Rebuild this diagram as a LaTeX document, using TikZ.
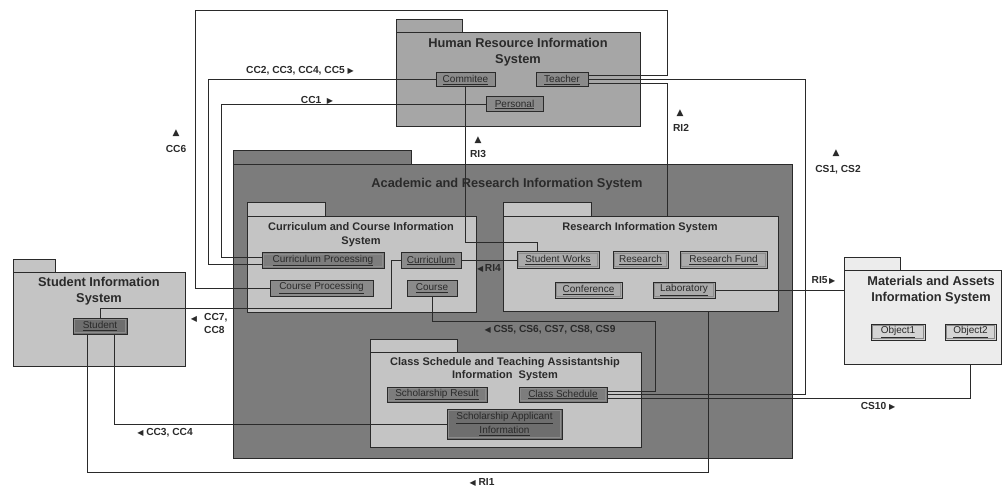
\documentclass[tikz,border=0pt]{standalone}
\usepackage{fontspec}
\setmainfont{Liberation Sans}
\newfontfamily\symf{DejaVu Sans}
\usetikzlibrary{fit}
\newcommand\rtri{{\symf\fontsize{8}{8}\selectfont ▶}}
\newcommand\ltri{{\symf\fontsize{8}{8}\selectfont ◀}}
\newcommand\utri{{\symf\fontsize{9}{9}\selectfont ▲}}
\definecolor{hrfill}{HTML}{A6A6A6}
\definecolor{acfill}{HTML}{7C7C7C}
\definecolor{subfill}{HTML}{C4C4C4}
\definecolor{mafill}{HTML}{ECECEC}
\definecolor{cdark}{HTML}{6E6E6E}
\definecolor{cmid}{HTML}{8A8A8A}
\definecolor{clight}{HTML}{AAAAAA}
\definecolor{cpale}{HTML}{D4D4D4}
\definecolor{ink}{HTML}{2A2A2A}
\newcommand\umlpkg[8]{%
  \node[pkg, fill=#8, fit={(#2,#7) (#6,#3)}] (#1tab) {};
  \node[pkg, fill=#8, fit={(#2,#3) (#4,#5)}] (#1) {};}
\tikzset{
  pkg/.style={draw=ink, line width=1pt, inner sep=0pt},
  ptitle/.style={font=\bfseries\fontsize{12.8}{16}\selectfont, align=center, inner sep=0pt, text=ink},
  stitle/.style={font=\bfseries\fontsize{11}{13.5}\selectfont, align=center, inner sep=0pt, text=ink},
  comp/.style={draw=ink, line width=1pt, inner sep=0pt, minimum height=15pt,
    font=\fontsize{10}{12}\selectfont, text=ink, align=center,
    path picture={\draw[black!45, line width=0.5pt]
      ([shift={(1.4pt,-1.4pt)}]path picture bounding box.north west) rectangle
      ([shift={(-1.4pt,1.4pt)}]path picture bounding box.south east);}},
  conn/.style={draw=ink, line width=0.9pt},
  lbl/.style={font=\bfseries\fontsize{10.2}{12}\selectfont, inner sep=0pt, align=center, text=ink},
}
\begin{document}
\begin{tikzpicture}[x=1pt,y=-1pt]
\fill[white] (0,0) rectangle (1003,486);
\useasboundingbox (0,0) rectangle (1003,486);

% packages
\umlpkg{hr}{396}{33}{640}{127}{462}{20}{hrfill}
\umlpkg{acad}{233}{165}{792}{458}{411}{151}{acfill}
\umlpkg{ccis}{247}{217}{476}{312}{325}{203}{subfill}
\umlpkg{ris}{503}{217}{778}{311}{591}{203}{subfill}
\umlpkg{csis}{370}{352}{641}{447}{457}{339}{subfill}
\umlpkg{sis}{13}{272}{185}{366}{55}{259}{subfill}
\umlpkg{mais}{844}{270}{1001}{364}{900}{257}{mafill}

% titles
\node[ptitle] (hrt) at (518,52) {Human Resource Information\\System};
\node[ptitle] (acadt) at (507,184) {Academic and Research Information System};
\node[stitle] (ccist) at (361,234.5) {Curriculum and Course Information\\System};
\node[stitle] (rist) at (640,228) {Research Information System};
\node[stitle] (csist) at (505,369) {Class Schedule and Teaching Assistantship\\Information\ \ System};
\node[ptitle] (sist) at (99,291.5) {Student Information\\System};
\node[ptitle] (maist) at (931,290) {Materials and Assets\\Information System};

% components
\path
  (465.5,80) node[comp, fill=cmid, minimum width=59pt, minimum height=14pt] (commitee) {\underline{Commitee}}
  (562,80) node[comp, fill=cmid, minimum width=52pt, minimum height=14pt] (teacher) {\underline{Teacher}}
  (514.5,104.5) node[comp, fill=cmid, minimum width=57pt] (personal) {\underline{Personal}}
  (323,260.5) node[comp, fill=cdark!90!white, minimum width=122pt] (curproc) {\underline{Curriculum Processing}}
  (431,260.5) node[comp, fill=cmid, minimum width=60pt] (curriculum) {\underline{Curriculum}}
  (321.5,288) node[comp, fill=cmid, minimum width=103pt, minimum height=16pt] (courseproc) {\underline{Course Processing}}
  (432,288) node[comp, fill=cmid, minimum width=50pt, minimum height=16pt] (course) {\underline{Course}}
  (558,260) node[comp, fill=clight, minimum width=82pt, minimum height=16pt] (studworks) {\underline{Student Works}}
  (640.5,260) node[comp, fill=clight, minimum width=55pt, minimum height=16pt] (research) {\underline{Research}}
  (723.5,260) node[comp, fill=clight, minimum width=87pt, minimum height=16pt] (resfund) {\underline{Research Fund}}
  (588.5,290) node[comp, fill=clight, minimum width=67pt, minimum height=16pt] (conference) {\underline{Conference}}
  (684,290) node[comp, fill=clight, minimum width=62pt, minimum height=16pt] (laboratory) {\underline{Laboratory}}
  (437,394.5) node[comp, fill=cdark!90!white, minimum width=100pt] (schres) {\underline{Scholarship Result}}
  (563,394.5) node[comp, fill=cdark!90!white, minimum width=88pt] (classsch) {\underline{Class Schedule}}
  (504.5,424) node[comp, fill=cdark, minimum width=115pt, minimum height=30pt, font=\fontsize{10}{14}\selectfont] (schapp) {\underline{Scholarship Applicant}\\\underline{Information}}
  (100,326) node[comp, fill=cdark, minimum width=54pt, minimum height=16pt] (student) {\underline{Student}}
  (898,332) node[comp, fill=cpale, minimum width=54pt, minimum height=16pt] (object1) {\underline{Object1}}
  (970.5,332) node[comp, fill=cpale, minimum width=51pt, minimum height=16pt] (object2) {\underline{Object2}};

% connectors
\draw[conn] ([yshift=5pt]teacher.east) -| (667,10) -| (195,288) -- (courseproc.west);
\draw[conn] ([yshift=1pt]commitee.west) -| (208,264) -- ([yshift=-3.5pt]curproc.west);
\draw[conn] (personal.west) -| (221,257) -- ([yshift=3.5pt]curproc.west);
\draw[conn] (commitee.south) |- (537,242) -- ([xshift=-21pt]studworks.north);
\draw[conn] (curriculum.east) -- (curriculum.east -| studworks.west);
\draw[conn] (student.north) |- (391,308) |- (curriculum.west);
\draw[conn] (course.south) |- (655,321) |- ([yshift=3.5pt]classsch.east);
\draw[conn] ([yshift=1pt]teacher.east) -| (805,394.5) -- (classsch.east);
\draw[conn] ([yshift=-3pt]teacher.east) -| ([xshift=26.5pt]ris.north);
\draw[conn] ([yshift=-3.5pt]classsch.east) -| ([xshift=47.5pt]mais.south);
\draw[conn] (laboratory.east) -- (laboratory.east -| mais.west);
\draw[conn] ([xshift=-13pt]student.south) |- (708,472) -- ([xshift=67.5pt]ris.south);
\draw[conn] ([xshift=14pt]student.south) |- (schapp.west);

% labels
\node[lbl] (l1) at (300,70.5) {CC2, CC3, CC4, CC5 \rtri};
\node[lbl] (l2) at (317,100) {CC1 \ \rtri};
\node[lbl] (l3a) at (176,133.5) {\utri};
\node[lbl] (l3) at (176,149) {CC6};
\node[lbl] (l4a) at (478,140) {\utri};
\node[lbl] (l4) at (478,154) {RI3};
\node[lbl] (l5a) at (680,113) {\utri};
\node[lbl] (l5) at (681,127.5) {RI2};
\node[lbl] (l6a) at (836,153.5) {\utri};
\node[lbl] (l6) at (838,169.5) {CS1, CS2};
\node[lbl] (l7) at (489,268.5) {\ltri\,RI4};
\node[lbl] (l8a) at (194,319) {\ltri};
\node[lbl, align=left, anchor=west] (l8) at (204,323.5) {CC7,\\[1pt]CC8};
\node[lbl] (l9) at (550,330) {\ltri\ CS5, CS6, CS7, CS8, CS9};
\node[lbl] (l10) at (823.5,280) {RI5\,\rtri};
\node[lbl] (l11) at (878,406) {CS10 \rtri};
\node[lbl] (l12) at (165,433) {\ltri\ CC3, CC4};
\node[lbl] (l13) at (482,482) {\ltri\ RI1};
\end{tikzpicture}
\end{document}
